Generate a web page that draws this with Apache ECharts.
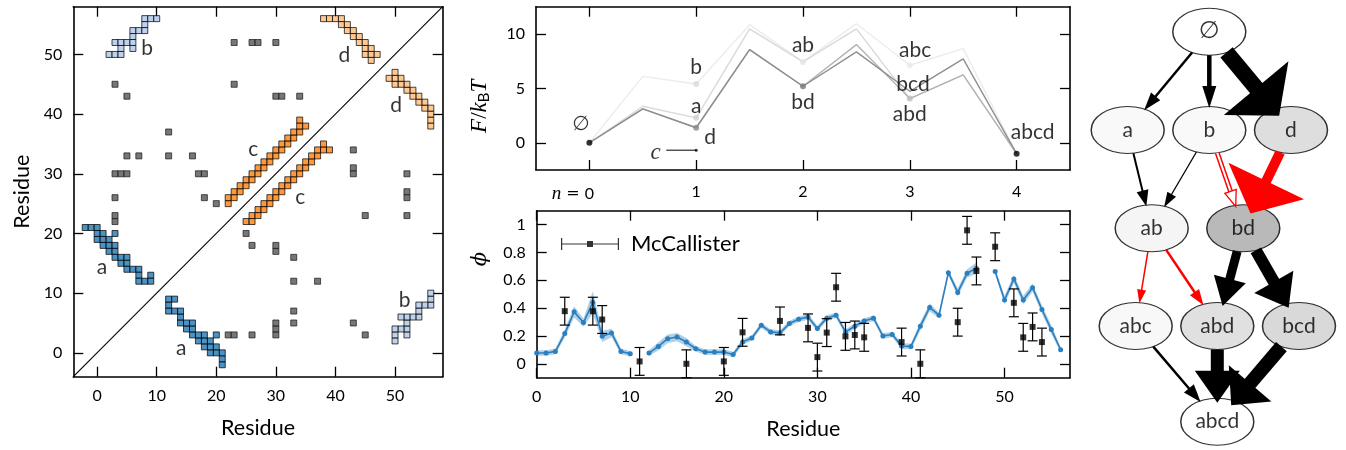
<!DOCTYPE html>
<html>
<head>
<meta charset="utf-8">
<script src="https://cdn.jsdelivr.net/npm/echarts@6/dist/echarts.min.js"></script>
<style>
  html, body { margin: 0; padding: 0; background: #fff; }
  #chart { width: 1346px; height: 450px; }
</style>
</head>
<body>
<div id="chart"></div>
<script>
// ---------- contact map: residue pairs (i < j), drawn in both triangles ----------
const contactsA = [[-2,21],[-1,21],[0,21],[0,20],[1,20],[3,20],[0,19],[1,19],[2,19],[1,18],[2,18],[3,18],
  [2,17],[3,17],[3,16],[4,16],[5,16],[4,15],[5,15],[5,14],[6,14],[7,14],[7,13],[9,13],[7,12],[8,12],[9,12]];
const contactsB = [[8,56],[9,56],[10,56],[8,55],[6,54],[7,54],[8,54],[6,53],[3,52],[4,52],[5,52],[6,52],
  [4,51],[6,51],[2,50],[3,50],[4,50]];
const contactsC = [[22,25],[22,26],[23,26],[23,27],[24,27],[24,28],[25,28],[25,29],[26,29],[26,30],[27,30],
  [27,31],[28,31],[28,32],[29,32],[29,33],[30,33],[30,34],[31,34],[31,35],[32,35],[32,36],[33,36],[33,37],
  [34,37],[34,38],[35,38],[34,39]];
const contactsD = [[38,56],[39,56],[40,56],[41,56],[41,55],[42,55],[42,54],[43,54],[43,53],[44,53],[44,52],
  [45,52],[45,51],[46,51],[45,50],[46,50],[47,50],[46,49]];
const contactsOther = [[3,45],[5,43],[12,37],[5,33],[7,33],[12,33],[16,33],[3,30],[4,30],[5,30],[17,30],
  [18,30],[3,26],[18,26],[20,25],[3,22],[3,23],[23,52],[23,45],[26,52],[27,52],[30,52],[30,43],[31,43],[34,43]];
const contactTicks = [0, 10, 20, 30, 40, 50];

// ---------- free-energy profile along the folding pathways ----------
const pathN = [0, 0.5, 1, 1.5, 2, 2.5, 3, 3.5, 4];
const pathBAbAbc = [0, 6.1, 5.4, 10.85, 7.43, 10.94, 7.12, 8.65, -1.0];
const pathAAbAbd = [0, 3.36, 2.29, 10.46, 7.43, 10.46, 4.06, 6.24, -1.0];
const pathDBdAbd = [0, 3.12, 1.38, 8.56, 5.19, 9.02, 4.06, 6.24, -1.0];
const pathDBdBcd = [0, 3.12, 1.38, 8.56, 5.19, 8.35, 4.73, 7.7, -1.0];
const stateNames = ['\u2205', 'b', 'a', 'd', 'ab', 'bd', 'abc', 'abd', 'abcd'];
const stateN = [0, 1, 1, 1, 2, 2, 3, 3, 4];
const stateF = [0, 5.41, 2.29, 1.38, 7.43, 5.19, 7.12, 4.06, -1.0];
const energyTicksN = [0, 1, 2, 3, 4];
const energyTicksF = [0, 5, 10];

// ---------- phi values per residue ----------
const simPhi = [0.077,0.077,0.089,0.217,0.373,0.296,0.441,0.197,0.221,0.089,0.072,null,
  0.077,0.125,0.18,0.192,0.156,0.108,0.084,0.084,0.084,0.067,0.156,0.185,0.277,0.229,0.221,
  0.289,0.32,0.337,0.253,0.328,0.349,0.229,0.27,0.308,0.328,0.2,0.21,0.127,0.125,0.27,0.405,
  0.349,0.655,0.513,0.65,0.687,null,0.663,0.458,0.61,0.458,0.547,0.39,0.246,0.101];
const simErr = [0.02,0.02,0.02,0.03,0.04,0.03,0.08,0.04,0.03,0.02,0.02,null,
  0.02,0.03,0.03,0.03,0.03,0.02,0.02,0.02,0.02,0.02,0.02,0.02,0.02,0.02,0.02,
  0.02,0.02,0.02,0.02,0.02,0.02,0.02,0.02,0.02,0.02,0.02,0.02,0.02,0.02,0.03,0.03,
  0.02,0.02,0.03,0.03,0.04,null,0.02,0.03,0.03,0.03,0.03,0.03,0.03,0.02];
const expResidue = [3,6,7,11,16,20,22,26,29,30,31,32,33,34,35,39,41,45,46,47,49,51,52,53,54];
const expPhi = [0.378,0.378,0.318,0.017,0.0,0.017,0.226,0.308,0.258,0.048,0.224,0.55,0.197,0.207,
  0.19,0.156,0.0,0.299,0.959,0.667,0.841,0.438,0.19,0.265,0.156];
const expErr = [0.1,0.1,0.1,0.1,0.1,0.1,0.1,0.1,0.1,0.1,0.1,0.1,0.1,0.1,0.1,0.1,0.1,0.1,0.1,0.1,0.1,0.1,0.1,0.1,0.1];
const phiTicksX = [0, 10, 20, 30, 40, 50];
const phiTicksY = [0, 0.2, 0.4, 0.6, 0.8, 1];

// ---------- folding network ----------
const nodeNames = ['\u2205', 'a', 'b', 'd', 'ab', 'bd', 'abc', 'abd', 'bcd', 'abcd'];
const nodeFill = ['#ffffff','#f8f8f8','#f8f8f8','#d6d6d6','#f2f2f2','#a8a8a8','#f6f6f6','#d8d8d8','#d0d0d0','#ffffff'];
const edgeFrom = [0, 0, 0, 1, 2, 2, 3, 4, 4, 5, 5, 6, 7, 8];
const edgeTo   = [1, 2, 3, 4, 4, 5, 5, 6, 7, 7, 8, 9, 9, 9];
const edgeFlux = [2.5, 4.5, 16, 2, 1.3, 5, 10, 1.5, 2.5, 9, 12, 2.5, 13, 14];
const edgeRed  = [0, 0, 0, 0, 0, 1, 1, 1, 1, 0, 0, 0, 0, 0];

// ---------- layout / styling ----------
const FONT = 'Lato';
const SERIF = 'Liberation Serif';
// node layout on the network canvas (x to the right, y downward)
const nodeX = [1209.3, 1127.7, 1209.3, 1291, 1151.7, 1243.3, 1135.7, 1217.3, 1299, 1217.3];
const nodeY = [31.7, 130, 130, 130, 228.3, 228.3, 326, 326, 326, 421.7];
const NODE_RX = 36.5, NODE_RY = 23.5;
const headLen = [18, 22, 36, 16, 15, 16, 36, 14, 16, 28, 30, 18, 32, 29];
const headWid = [12, 14, 84, 12, 10, 12, 84, 9, 11, 33, 45, 13, 45, 56];

const mirror = pairs => pairs.flatMap(([i, j]) => [[i, j], [j, i]]);

function frame(dim, gridIndex, min, max, ticks, extra) {
  const base = () => ({
    gridIndex, type: 'value', min, max,
    splitLine: { show: false },
    axisLine: { show: true, onZero: false, lineStyle: { color: '#000', width: 1.6 } },
    axisTick: { show: true, inside: true, length: 10, customValues: ticks, lineStyle: { color: '#000', width: 1.3 } }
  });
  const main = Object.assign(base(), {
    position: dim === 'x' ? 'bottom' : 'left',
    axisLabel: Object.assign({ show: true, customValues: ticks, fontFamily: FONT, fontSize: 16, color: '#000', margin: 11 }, extra.label || {}),
    name: extra.name, nameLocation: 'middle', nameGap: extra.nameGap,
    nameRotate: dim === 'y' ? 90 : 0,
    nameTextStyle: Object.assign({ fontFamily: FONT, fontSize: 21.5, color: '#000' }, extra.nameStyle || {})
  });
  const opp = Object.assign(base(), { position: dim === 'x' ? 'top' : 'right', axisLabel: { show: false } });
  return [main, opp];
}

const xAxes = [
  ...frame('x', 0, -4, 58, contactTicks, { name: 'Residue', nameGap: 40 }),
  ...frame('x', 1, -0.5, 4.5, energyTicksN, {
    label: {
      margin: 14,
      formatter: v => v === 0 ? '{n|n}{eq| = }0{sp|}' : String(v),
      rich: {
        n: { fontFamily: SERIF, fontStyle: 'italic', fontSize: 19 },
        eq: { fontFamily: 'DejaVu Sans', fontSize: 16 },
        sp: { width: 33 }
      }
    }
  }),
  ...frame('x', 2, 0, 57, phiTicksX, { name: 'Residue', nameGap: 40 }),
  { gridIndex: 3, type: 'value', min: 1080, max: 1346, show: false }
];
const yAxes = [
  ...frame('y', 0, -4, 58, contactTicks, { name: 'Residue', nameGap: 40 }),
  ...frame('y', 1, -2.5, 12.5, energyTicksF, {
    name: '{i|F}/{i|k}{s|B}{i|T}', nameGap: 44,
    nameStyle: {
      fontFamily: SERIF, fontSize: 23, padding: [0, 36, 0, 0],
      rich: { i: { fontFamily: SERIF, fontStyle: 'italic', fontSize: 23 },
              s: { fontFamily: FONT, fontSize: 15, padding: [9, 0, 0, 0] } }
    }
  }),
  ...frame('y', 2, -0.1, 1.1, phiTicksY, {
    name: '\u03d5', nameGap: 46,
    nameStyle: { fontFamily: 'DejaVu Serif', fontStyle: 'italic', fontSize: 21, padding: [0, 0, 0, 70] }
  }),
  { gridIndex: 3, type: 'value', min: 0, max: 450, inverse: true, show: false }
];

const contactSeries = (pairs, color, border) => ({
  type: 'scatter', xAxisIndex: 0, yAxisIndex: 0, symbol: 'rect', symbolSize: 6,
  itemStyle: { color, borderColor: border, borderWidth: 0.9 }, data: mirror(pairs), z: 3, silent: true
});
const textLayer = (xi, yi, items, style) => ({
  type: 'scatter', xAxisIndex: xi, yAxisIndex: yi, symbolSize: 0, silent: true, z: 6, clip: false,
  data: items.map(([t, x, y]) => ({ name: t, value: [x, y] })),
  label: Object.assign({ show: true, position: 'inside', formatter: '{b}', color: '#000', fontFamily: FONT, fontSize: 21 }, style || {})
});

// cluster captions on the contact map and state captions on the energy profile
const contactCaptions = [['b', 8.4, 51.1], ['a', 0.8, 14.3], ['a', 14.1, 0.8], ['c', 26.2, 34.1],
  ['c', 34.1, 26.0], ['d', 41.5, 49.9], ['d', 50.2, 41.5], ['b', 51.6, 8.8]];
const stateCaptions = [['b', 1, 6.9], ['a', 1, 3.4], ['d', 1.13, 0.55], ['ab', 2, 9.0],
  ['bd', 2, 3.7], ['abc', 3.05, 8.5], ['bcd', 3.03, 5.35], ['abd', 3, 2.6], ['abcd', 4.15, 0.97]];

const ellipsePath = 'path://M1,0C1,0.5523,0.5523,1,0,1C-0.5523,1,-1,0.5523,-1,0C-1,-0.5523,-0.5523,-1,0,-1C0.5523,-1,1,-0.5523,1,0Z';

function ellipseReach(ux, uy) {
  return 1 / Math.sqrt((ux / NODE_RX) ** 2 + (uy / NODE_RY) ** 2);
}

const option = {
  animation: false,
  backgroundColor: '#fff',
  grid: [
    { left: 73.3, top: 6.7, width: 369.4, height: 370 },
    { left: 536, top: 6.7, width: 534, height: 163.3 },
    { left: 536.7, top: 210.7, width: 533.3, height: 167 },
    { left: 1080, top: 0, width: 266, height: 450 }
  ],
  xAxis: xAxes,
  yAxis: yAxes,
  legend: {
    data: ['McCallister'], left: 556, top: 228, selectedMode: false,
    icon: 'path://M0,0h1.2v12h-1.2zM0,5.4h58v1.2h-58zM56.8,0h1.2v12h-1.2zM26,3h6v6h-6z',
    itemWidth: 58, itemHeight: 12,
    textStyle: { fontFamily: FONT, fontSize: 22, color: '#000', padding: [0, 0, 0, 7] }
  },
  series: [
    // ----- contact map -----
    { type: 'line', xAxisIndex: 0, yAxisIndex: 0, data: [[-4, -4], [58, 58]], showSymbol: false, silent: true,
      lineStyle: { color: '#000', width: 1.1 }, z: 2 },
    contactSeries(contactsOther, '#555555', '#1a1a1a'),
    contactSeries(contactsA, '#1f77b4', '#000'),
    contactSeries(contactsB, '#aec7e8', '#000'),
    contactSeries(contactsC, '#ff7f0e', '#000'),
    contactSeries(contactsD, '#ffbb78', '#000'),
    textLayer(0, 0, contactCaptions),

    // ----- energy profile -----
    ...[[pathBAbAbc, '#ececec'], [pathAAbAbd, '#d9d9d9'], [pathDBdAbd, '#b3b3b3'], [pathDBdBcd, '#8f8f8f']].map(([ys, c]) => ({
      type: 'line', xAxisIndex: 2, yAxisIndex: 2, showSymbol: false, silent: true,
      data: pathN.map((n, i) => [n, ys[i]]), lineStyle: { color: c, width: 1.4 }, z: 2
    })),
    { type: 'scatter', xAxisIndex: 2, yAxisIndex: 2, symbolSize: 6, silent: true, z: 4,
      data: stateN.map((n, i) => ({ value: [n, stateF[i]], name: stateNames[i],
        itemStyle: { color: ['#000','#dadada','#cfcfcf','#8a8a8a','#e4e4e4','#777777','#e8e8e8','#bdbdbd','#000'][i] } })) },
    { type: 'line', xAxisIndex: 2, yAxisIndex: 2, showSymbol: false, silent: true,
      data: [[0.72, -0.68], [1, -0.68]], lineStyle: { color: '#000', width: 1 } },
    { type: 'scatter', xAxisIndex: 2, yAxisIndex: 2, symbolSize: 3, silent: true, data: [[1, -0.68]], itemStyle: { color: '#000' } },
    textLayer(2, 2, stateCaptions),
    textLayer(2, 2, [['\u2205', -0.08, 1.65]], { fontFamily: 'DejaVu Sans', fontSize: 20 }),
    textLayer(2, 2, [['c', 0.62, -0.92]], { fontFamily: SERIF, fontStyle: 'italic', fontSize: 23 }),

    // ----- phi values -----
    { type: 'custom', xAxisIndex: 4, yAxisIndex: 4, silent: true, z: 1, data: [[0, 0]],
      renderItem: (params, api) => {
        const children = [];
        let run = [];
        const flush = () => {
          if (run.length > 1) {
            const up = run.map(i => api.coord([i, simPhi[i] + simErr[i]]));
            const lo = run.map(i => api.coord([i, simPhi[i] - simErr[i]])).reverse();
            children.push({ type: 'polygon', shape: { points: up.concat(lo) }, style: { fill: 'rgba(31,119,180,0.35)' } });
          }
          run = [];
        };
        simPhi.forEach((v, i) => { if (v == null) flush(); else run.push(i); });
        flush();
        return { type: 'group', children };
      } },
    { type: 'line', xAxisIndex: 4, yAxisIndex: 4, silent: true, z: 3, connectNulls: false,
      data: simPhi.map((v, i) => [i, v]), symbol: 'circle', symbolSize: 5, showSymbol: true,
      lineStyle: { color: '#2a7fc0', width: 1.6 }, itemStyle: { color: '#2a7fc0' } },
    { type: 'custom', xAxisIndex: 4, yAxisIndex: 4, silent: true, z: 4,
      data: expResidue.map((r, i) => [r, expPhi[i], expErr[i]]),
      renderItem: (params, api) => {
        const x = api.value(0), y = api.value(1), e = api.value(2);
        const hi = api.coord([x, y + e]), lo = api.coord([x, y - e]);
        const st = { stroke: '#000', lineWidth: 1.2 };
        return { type: 'group', children: [
          { type: 'line', shape: { x1: hi[0], y1: hi[1], x2: lo[0], y2: lo[1] }, style: st },
          { type: 'line', shape: { x1: hi[0] - 5, y1: hi[1], x2: hi[0] + 5, y2: hi[1] }, style: st },
          { type: 'line', shape: { x1: lo[0] - 5, y1: lo[1], x2: lo[0] + 5, y2: lo[1] }, style: st }
        ] };
      } },
    { name: 'McCallister', type: 'scatter', xAxisIndex: 4, yAxisIndex: 4, symbol: 'rect', symbolSize: 6, silent: true, z: 5,
      data: expResidue.map((r, i) => [r, expPhi[i]]), itemStyle: { color: '#000' } },

    // ----- folding network -----
    { type: 'scatter', xAxisIndex: 6, yAxisIndex: 6, silent: true, z: 2,
      symbol: ellipsePath, symbolSize: [NODE_RX * 2, NODE_RY * 2], symbolKeepAspect: false,
      data: nodeNames.map((n, i) => ({ name: n, value: [nodeX[i], nodeY[i]], itemStyle: { color: nodeFill[i] },
        label: i === 0 ? { fontFamily: 'DejaVu Sans', fontSize: 24 } : undefined })),
      itemStyle: { borderColor: '#000', borderWidth: 1.2 },
      label: { show: true, position: 'inside', formatter: '{b}', color: '#000', fontFamily: FONT, fontSize: 21 } },
    { type: 'custom', xAxisIndex: 6, yAxisIndex: 6, silent: true, z: 5,
      data: edgeFrom.map((f, i) => [i]),
      renderItem: (params, api) => {
        const k = api.value(0);
        const a = edgeFrom[k], b = edgeTo[k];
        const p0 = api.coord([nodeX[a], nodeY[a]]), p1 = api.coord([nodeX[b], nodeY[b]]);
        const dx = p1[0] - p0[0], dy = p1[1] - p0[1], L = Math.hypot(dx, dy);
        const ux = dx / L, uy = dy / L, nx = -uy, ny = ux;
        const r = ellipseReach(ux, uy);
        const inset = headWid[k] * 0.1;
        const start = [p0[0] + ux * r, p0[1] + uy * r];
        const tip = [p1[0] - ux * (r - inset), p1[1] - uy * (r - inset)];
        const base = [tip[0] - ux * headLen[k], tip[1] - uy * headLen[k]];
        const hw = headWid[k] / 2;
        const head = [tip, [base[0] + nx * hw, base[1] + ny * hw], [base[0] - nx * hw, base[1] - ny * hw]];
        const color = edgeRed[k] ? '#ff0000' : '#000000';
        const end = [base[0] + ux * 1.5, base[1] + uy * 1.5];
        const children = [
          { type: 'line', shape: { x1: start[0], y1: start[1], x2: end[0], y2: end[1] },
            style: { stroke: color, lineWidth: edgeFlux[k] } }
        ];
        if (k === 5) {
          // doubled outline edge
          children.push({ type: 'line', shape: { x1: start[0], y1: start[1], x2: end[0], y2: end[1] },
            style: { stroke: '#fff', lineWidth: edgeFlux[k] - 3 } });
          children.push({ type: 'polygon', shape: { points: head }, style: { fill: '#fff', stroke: color, lineWidth: 1.3 } });
        } else {
          children.push({ type: 'polygon', shape: { points: head }, style: { fill: color } });
        }
        return { type: 'group', children };
      } }
  ]
};

const chart = echarts.init(document.getElementById('chart'), null, { renderer: 'canvas', width: 1346, height: 450 });
chart.setOption(option);
</script>
</body>
</html>
